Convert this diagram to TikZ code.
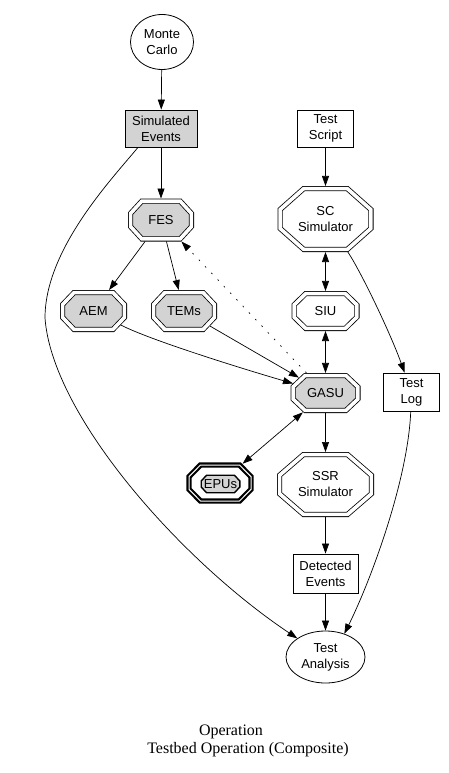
\documentclass[tikz,border=0pt]{standalone}
\usepackage{fontspec}
\setmainfont{Liberation Sans}
\newfontfamily\capfont{Liberation Serif}
\usetikzlibrary{shapes.geometric,arrows.meta,calc}
\definecolor{lgray}{HTML}{D3D3D3}
\makeatletter
\def\octa@box{%
  \southwest\edef\oc@sx{\the\pgf@x}\edef\oc@sy{\the\pgf@y}%
  \northeast\edef\oc@ex{\the\pgf@x}\edef\oc@ey{\the\pgf@y}%
  \pgfmathsetmacro\oc@cx{((\oc@sx)+(\oc@ex))/2}%
  \pgfmathsetmacro\oc@cy{((\oc@sy)+(\oc@ey))/2}%
  \pgfmathsetmacro\oc@a{((\oc@ex)-(\oc@sx))/2}%
  \pgfmathsetmacro\oc@b{((\oc@ey)-(\oc@sy))/2}%
}
\def\declareocta#1#2#3{%
\pgfdeclareshape{#1}{%
  \inheritsavedanchors[from=rectangle]%
  \inheritanchor[from=rectangle]{center}%
  \inheritanchor[from=rectangle]{north}%
  \inheritanchor[from=rectangle]{south}%
  \inheritanchor[from=rectangle]{east}%
  \inheritanchor[from=rectangle]{west}%
  \inheritanchor[from=rectangle]{text}%
  \inheritanchor[from=rectangle]{base}%
  \inheritanchor[from=rectangle]{mid}%
  \backgroundpath{%
    \octa@box
    \pgfmathsetmacro\oc@ox{\pgfkeysvalueof{/pgf/outer xsep}}%
    \pgfmathsetmacro\oc@oy{\pgfkeysvalueof{/pgf/outer ysep}}%
    \pgfmathsetmacro\oc@hw{\oc@a-\oc@ox}%
    \pgfmathsetmacro\oc@hh{\oc@b-\oc@oy}%
    \pgfmathsetmacro\oc@p{#2*\oc@hw}%
    \pgfmathsetmacro\oc@q{#3*\oc@hh}%
    \pgfpathmoveto{\pgfpoint{\oc@cx+\oc@p}{\oc@cy+\oc@hh}}%
    \pgfpathlineto{\pgfpoint{\oc@cx+\oc@hw}{\oc@cy+\oc@q}}%
    \pgfpathlineto{\pgfpoint{\oc@cx+\oc@hw}{\oc@cy-\oc@q}}%
    \pgfpathlineto{\pgfpoint{\oc@cx+\oc@p}{\oc@cy-\oc@hh}}%
    \pgfpathlineto{\pgfpoint{\oc@cx-\oc@p}{\oc@cy-\oc@hh}}%
    \pgfpathlineto{\pgfpoint{\oc@cx-\oc@hw}{\oc@cy-\oc@q}}%
    \pgfpathlineto{\pgfpoint{\oc@cx-\oc@hw}{\oc@cy+\oc@q}}%
    \pgfpathlineto{\pgfpoint{\oc@cx-\oc@p}{\oc@cy+\oc@hh}}%
    \pgfpathclose
  }%
  \anchorborder{%
    \edef\oc@dx{\the\pgf@x}\edef\oc@dy{\the\pgf@y}%
    \octa@box
    \pgfmathsetmacro\oc@p{#2*\oc@a}%
    \pgfmathsetmacro\oc@q{#3*\oc@b}%
    \pgfmathsetmacro\oc@len{max(veclen(\oc@dx,\oc@dy),0.001)}%
    \pgfmathsetmacro\oc@vx{(\oc@dx)/\oc@len}%
    \pgfmathsetmacro\oc@vy{(\oc@dy)/\oc@len}%
    \pgfmathsetmacro\oc@ux{abs(\oc@vx)}%
    \pgfmathsetmacro\oc@uy{abs(\oc@vy)}%
    \pgfmathsetmacro\oc@C{(\oc@b-\oc@q)*\oc@a+(\oc@a-\oc@p)*\oc@q}%
    \pgfmathsetmacro\oc@m{max(\oc@ux/\oc@a,\oc@uy/\oc@b,((\oc@b-\oc@q)*\oc@ux+(\oc@a-\oc@p)*\oc@uy)/\oc@C)}%
    \pgfmathsetmacro\oc@rx{\oc@cx+\oc@vx/\oc@m}%
    \pgfmathsetmacro\oc@ry{\oc@cy+\oc@vy/\oc@m}%
    \pgf@x=\oc@rx pt\relax
    \pgf@y=\oc@ry pt\relax
  }%
}}
\declareocta{octA}{0.63}{0.35}
\declareocta{octB}{0.48}{0.31}
\declareocta{octC}{0.72}{0.35}
\makeatother
\begin{document}
\begin{tikzpicture}[x=1pt,y=-1pt,
  font=\fontsize{13}{16}\selectfont,
  every node/.style={align=center, inner sep=0pt},
  box/.style={rectangle, draw, line width=0.8pt},
  ell/.style={ellipse, draw, line width=0.8pt},
  oct/.style={shape=octA, draw, line width=0.8pt, double=white,
    double distance=3.6pt, outer sep=2.6pt},
  octbig/.style={oct, shape=octB},
  tip/.tip={Triangle[length=10pt,width=7pt]},
  arr/.style={-tip, line width=0.7pt},
  biarr/.style={tip-tip, line width=0.7pt},
  dotline/.style={dash pattern=on 1.6pt off 7.5pt}
]
\useasboundingbox (0,0) rectangle (448,773);

% nodes
\node[ell, minimum width=63pt, minimum height=55pt] (mc) at (162,42) {Monte\\Carlo};
\node[box, fill=lgray, minimum width=72pt, minimum height=37pt] (sim) at (161,128.5) {Simulated\\Events};
\node[box, minimum width=56pt, minimum height=37pt] (ts) at (325.5,128.5) {Test\\Script};

\node[oct, fill=lgray, minimum width=60.8pt, minimum height=37.8pt] (fes) at (161,220) {FES};
\node[octbig, minimum width=90.8pt, minimum height=60.8pt] (sc) at (325.5,219) {SC\\Simulator};

\node[oct, fill=lgray, minimum width=61.8pt, minimum height=36.8pt] (aem) at (93.5,311) {AEM};
\node[oct, fill=lgray, minimum width=60.8pt, minimum height=36.8pt] (tems) at (184,311) {TEMs};
\node[oct, minimum width=62.8pt, minimum height=34.8pt] (siu) at (325.5,311) {SIU};

\node[oct, fill=lgray, minimum width=64.8pt, minimum height=34.8pt] (gasu) at (325.5,393) {GASU};
\node[box, minimum width=56pt, minimum height=38pt] (tl) at (411.5,392) {Test\\Log};

\node[shape=octA, draw, line width=2.2pt, double=white, double distance=1pt,
  outer sep=2.7pt, fill=white, minimum width=62pt, minimum height=36pt] (epus) at (220,483) {};
\node[shape=octC, draw, line width=1.4pt, fill=lgray,
  minimum width=38.6pt, minimum height=17.5pt] (epuslbl) at (220.5,484) {EPUs};

\node[octbig, minimum width=91.8pt, minimum height=59.8pt] (ssr) at (325.5,484.5) {SSR\\Simulator};
\node[box, minimum width=65pt, minimum height=39pt] (de) at (325.5,573.5) {Detected\\Events};
\node[ell, minimum width=79pt, minimum height=52pt] (ta) at (325.5,657) {Test\\Analysis};

\node[font=\capfont\fontsize{16}{19}\selectfont, anchor=base] (cap1) at (231,735) {Operation};
\node[font=\capfont\fontsize{16}{19}\selectfont, anchor=base] (cap2) at (248,753) {Testbed Operation (Composite)};

% connectors
\draw[arr] (mc) -- (sim);
\draw[arr] (sim) -- (fes);
\draw[arr] ([xshift=-23pt]sim.south) .. controls (110,181) and (45,250) .. (45,318)
  .. controls (52,415) and (180,560) .. (ta.north west);
\draw[arr] (ts) -- (sc);
\draw[biarr] (sc) -- (siu);
\draw[biarr] (siu) -- (gasu);
\draw[arr] (sc) .. controls (360,270) and (390,332) .. (tl);
\draw[arr] (fes) -- (aem);
\draw[arr] (fes) -- (tems);
\draw[arr] (aem) .. controls (150,340) and (240,368) .. (gasu);
\draw[arr] (tems) -- (gasu);
\draw[arr, dotline] (gasu) -- (fes);
\draw[biarr] (gasu) -- (epus);
\draw[arr] (gasu) -- (ssr);
\draw[arr] (ssr) -- (de);
\draw[arr] (de) -- (ta);
\draw[arr] (tl) .. controls (408,480) and (371,580) .. (ta.51);
\end{tikzpicture}
\end{document}
